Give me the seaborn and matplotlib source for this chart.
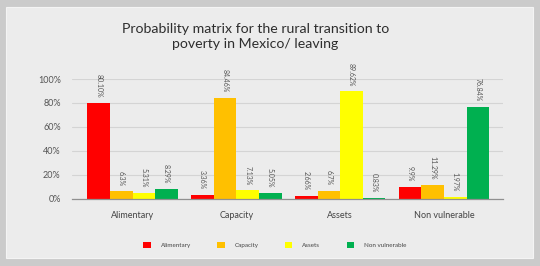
import matplotlib
matplotlib.use("Agg")
import matplotlib.pyplot as plt
from matplotlib.patches import Rectangle, Patch
import pandas as pd
import seaborn as sns

# data
categories = ["Alimentary", "Capacity", "Assets", "Non vulnerable"]
series = ["Alimentary", "Capacity", "Assets", "Non vulnerable"]
values = {
    "Alimentary":     [80.10, 3.36, 2.66, 9.9],
    "Capacity":       [6.3, 84.46, 6.7, 11.29],
    "Assets":         [5.31, 7.13, 89.62, 1.97],
    "Non vulnerable": [8.29, 5.05, 0.83, 76.84],
}
labels = {
    "Alimentary":     ["80.10%", "3.36%", "2.66%", "9.9%"],
    "Capacity":       ["6.3%", "84.46%", "6.7%", "11.29%"],
    "Assets":         ["5.31%", "7.13%", "89.62%", "1.97%"],
    "Non vulnerable": ["8.29%", "5.05%", "0.83%", "76.84%"],
}
colors = ["#ff0000", "#ffc000", "#ffff00", "#00b050"]
yticks = [0, 20, 40, 60, 80, 100]

rows = []
for s in series:
    for c, v in zip(categories, values[s]):
        rows.append({"category": c, "series": s, "value": v})
df = pd.DataFrame(rows)

sns.set_style("white")
plt.rcParams["font.family"] = ["Lato", "DejaVu Sans"]

fig = plt.figure(figsize=(5.4, 2.66), dpi=100)
fig.patch.set_facecolor("#cbcbcb")
fig.patches.append(Rectangle((0.011, 0.030), 0.976, 0.944, transform=fig.transFigure,
                             facecolor="#ececec", edgecolor="#f4f4f4", lw=0.8, zorder=-1))

ax = fig.add_axes([0.133, 0.252, 0.798, 0.451])
ax.set_facecolor("none")

sns.barplot(data=df, x="category", y="value", hue="series", order=categories,
            hue_order=series, palette=colors, width=0.87, gap=0, saturation=1,
            linewidth=0, legend=False, ax=ax)

for cont, s in zip(ax.containers, series):
    ax.bar_label(cont, labels=labels[s], rotation=270, padding=4, fontsize=5,
                 color="#555555", clip_on=False)

ax.set_ylim(0, 100)
ax.set_xlim(-0.585, 3.565)
ax.set_yticks(yticks)
ax.set_yticklabels([f"{t}%" for t in yticks], fontsize=6.5, color="#555555")
ax.yaxis.grid(True, color="#d4d4d4", lw=0.8)
ax.set_axisbelow(True)
ax.tick_params(axis="both", length=0)
ax.tick_params(axis="y", pad=8)
ax.tick_params(axis="x", pad=9, labelsize=6.5, labelcolor="#444444")
ax.set_xlabel("")
ax.set_ylabel("")
for sp in ["left", "right", "top"]:
    ax.spines[sp].set_visible(False)
ax.spines["bottom"].set_color("#909090")
ax.spines["bottom"].set_linewidth(0.9)

fig.text(0.473, 0.862, "Probability matrix for the rural transition to\npoverty in Mexico/ leaving",
         ha="center", va="center", fontsize=10.2, color="#2e2e2e", linespacing=1.25)

handles = [Patch(facecolor=c, edgecolor="none") for c in colors]
fig.legend(handles, series, loc="center", bbox_to_anchor=(0.509, 0.079), ncol=4,
           frameon=False, fontsize=4.5, handlelength=1.2, handleheight=1.3,
           columnspacing=4.2, handletextpad=1.6, labelcolor="#444444")

fig.savefig("out.png", dpi=100, facecolor=fig.get_facecolor())
